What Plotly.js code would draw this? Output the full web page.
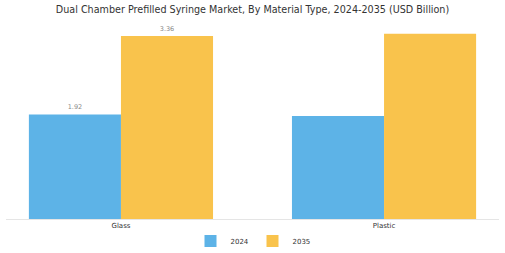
<!DOCTYPE html>
<html><head><meta charset="utf-8">
<script src="https://cdn.plot.ly/plotly-3.0.1.min.js"></script>
<style>body{margin:0;}#c{width:505px;height:253px;}</style>
</head><body><div id="c"></div>
<script>
const categories = ["Glass", "Plastic"];
const values2024 = [1.92, 1.89];
const values2035 = [3.36, 3.40];
const labels2024 = ["1.92", ""];
const labels2035 = ["3.36", ""];

const traces = [
  {type:"bar", name:"2024", x:categories, y:values2024, marker:{color:"#5DB3E7"},
   text:labels2024, textposition:"outside", textfont:{size:6.5, color:"#888"}, cliponaxis:false},
  {type:"bar", name:"2035", x:categories, y:values2035, marker:{color:"#F9C34C"},
   text:labels2035, textposition:"outside", textfont:{size:6.5, color:"#888"}, cliponaxis:false}
];
const layout = {
  width:505, height:253,
  margin:{l:6, r:6, t:30, b:34, autoexpand:false},
  paper_bgcolor:"#fff", plot_bgcolor:"#fff",
  title:{text:"Dual Chamber Prefilled Syringe Market, By Material Type, 2024-2035 (USD Billion)",
         font:{family:"DejaVu Sans, sans-serif", size:9.6, color:"#333"},
         x:0.5, xanchor:"center", yref:"container", y:1 - 10/253, yanchor:"middle"},
  barmode:"group", bargap:0.3, bargroupgap:0,
  xaxis:{type:"category", range:[-0.437, 1.437], showline:true, linecolor:"#e5e5e5", linewidth:1,
         tickfont:{family:"DejaVu Sans, sans-serif", size:7, color:"#333"}, ticks:"", automargin:false},
  yaxis:{range:[0, 3.47], visible:false, showgrid:false, zeroline:false, automargin:false},
  legend:{orientation:"h", x:0.5, xanchor:"center", yref:"container", y:1 - 241/253, yanchor:"middle",
          entrywidth:17, entrywidthmode:"pixels",
          font:{family:"DejaVu Sans, sans-serif", size:7, color:"#333"}},
  showlegend:true,
  font:{family:"DejaVu Sans, sans-serif"}
};
Plotly.newPlot("c", traces, layout, {displayModeBar:false, staticPlot:true});
</script></body></html>
